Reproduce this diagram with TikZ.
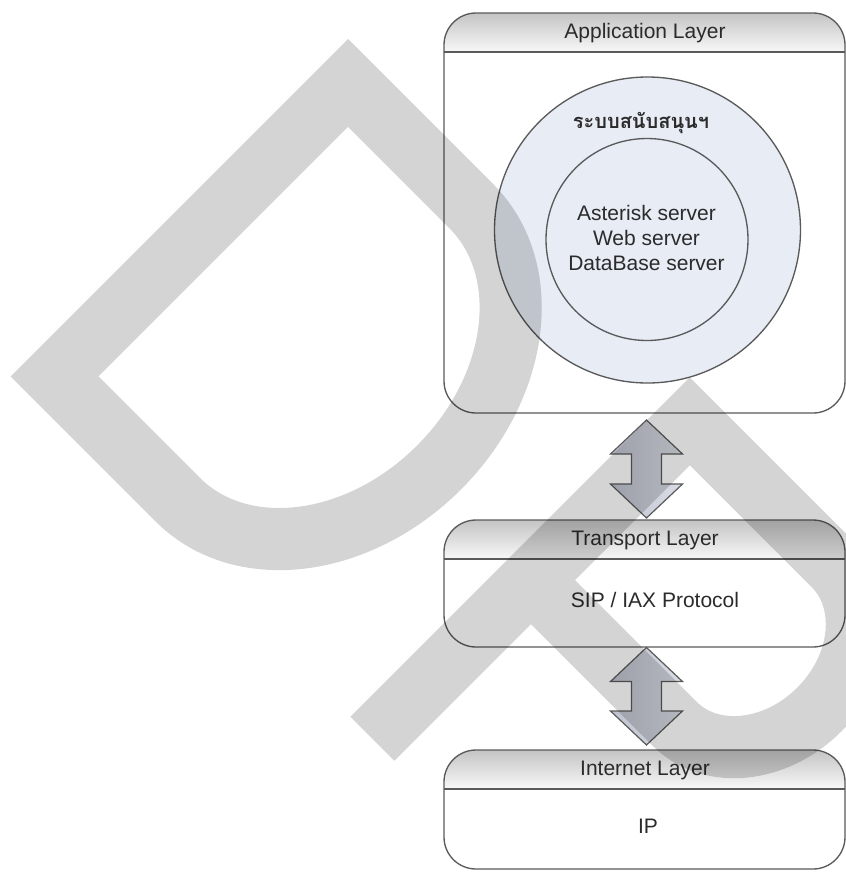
\documentclass[tikz,border=0pt]{standalone}
\usepackage{fontspec}
\setmainfont{Liberation Sans}
\newfontfamily\thaifont[Script=Thai]{Loma}
\usetikzlibrary{calc}

\definecolor{edge}{HTML}{5A5A5A}
\definecolor{txt}{HTML}{2B2B2B}
\definecolor{hdtop}{HTML}{C4C4C4}
\definecolor{hdbot}{HTML}{F8F8F8}
\definecolor{cfill}{HTML}{E7ECF5}
\definecolor{arrL}{HTML}{BEC2CE}
\definecolor{arrR}{HTML}{DADDE5}

% one layer: rounded box with a shaded title strip
% #1 top, #2 bottom of the title strip, #3 bottom
\newcommand\layerbox[3]{%
  \fill[white, rounded corners=24pt] (444,#1) rectangle (845,#3);
  \begin{scope}
    \clip[rounded corners=24pt] (444,#1) rectangle (845,#3);
    \shade[top color=hdtop, bottom color=hdbot] (444,#1) rectangle (845,#2);
  \end{scope}
  \draw[boxline] (444,#2) -- (845,#2);
  \draw[boxline, rounded corners=24pt] (444,#1) rectangle (845,#3);
}

% block double arrow between two tip coordinates
\newcommand\updown[2]{%
  \draw[blockarrow] (#1) -- ++(36,34) -- ++(-21,0) -- ($(#2)+(15,-34)$)
    -- ++(21,0) -- (#2) -- ++(-36,-34) -- ++(21,0) -- ($(#1)+(-15,34)$)
    -- ++(-21,0) -- cycle;
}

\begin{document}
\begin{tikzpicture}[x=0.75pt, y=-0.75pt,
  boxline/.style={draw=edge, line width=1pt},
  circline/.style={draw=edge, line width=1pt, fill=cfill},
  blockarrow/.style={draw=edge, line width=0.9pt, left color=arrL, right color=arrR},
  lbl/.style={font=\fontsize{15.75}{18.75}\selectfont, text=txt, inner sep=0pt, align=center},
  letterstroke/.style={draw=black, draw opacity=0.17, line width=46.6pt, line join=miter, line cap=butt}]

\useasboundingbox (0,0) rectangle (846,872);

% layers
\layerbox{13}{52}{413}
\layerbox{520}{559}{647}
\layerbox{750}{789}{869}

% support system and its servers
\draw[circline] (647.5,230) circle[radius=153];
\draw[circline] (647,239.5) circle[radius=101];

\node[lbl] (apphdr) at (645,33) {Application Layer};
\node[lbl, font=\thaifont\bfseries\fontsize{15}{18}\selectfont] (support) at (641,123) {ระบบสนับสนุนฯ};
\node[lbl] (servers) at (646.5,238) {Asterisk server\\Web server\\DataBase server};
\node[lbl] (transhdr) at (645,540) {Transport Layer};
\node[lbl] (sip) at (655,600) {SIP / IAX Protocol};
\node[lbl] (inethdr) at (645,770) {Internet Layer};
\node[lbl] (ip) at (648,826) {IP};

% arrows between layers
\coordinate (a1top) at (646.5,420);
\coordinate (a1bot) at (646.5,518);
\coordinate (a2top) at (646.5,647.5);
\coordinate (a2bot) at (646.5,745);
\updown{a1top}{a1bot}
\updown{a2top}{a2bot}

% translucent letter strokes laid over the diagram
\begin{scope}
  \clip (0,0) rectangle (846,872);
  \begin{scope}[shift={(324.5,352.9)}, x={(0.5303pt,-0.5303pt)}, y={(0.5303pt,0.5303pt)}]
    \draw[letterstroke] (0,-207.55) -- (-174.2,-207.55) -- (-174.2,207.55) -- (0,207.55)
      arc[start angle=90, end angle=-90, x radius=162, y radius=207.55] -- cycle;
  \end{scope}
  \begin{scope}[shift={(754.2,644.5)}, x={(0.5303pt,-0.5303pt)}, y={(0.5303pt,0.5303pt)}]
    \draw[letterstroke] (-203.4,-336.6) -- (-203.4,112.3) -- (0,112.3)
      arc[start angle=90, end angle=-90, x radius=92, y radius=112.3] -- (-203.4,-112.3);
  \end{scope}
\end{scope}
\end{tikzpicture}
\end{document}
